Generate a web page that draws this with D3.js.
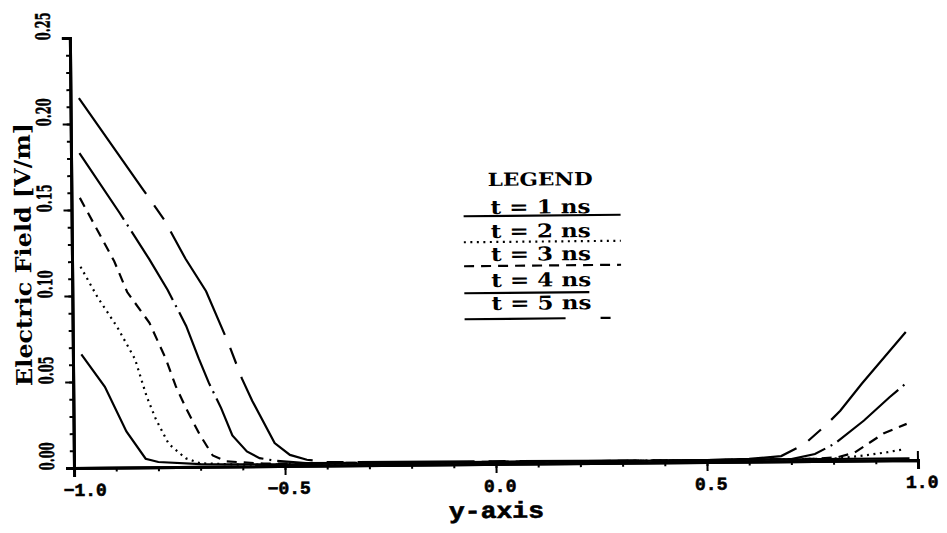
<!DOCTYPE html>
<html>
<head>
<meta charset="utf-8">
<script src="https://cdn.jsdelivr.net/npm/d3@7"></script>
<style>
  body { margin: 0; background: #fff; }
  svg { display: block; }
</style>
</head>
<body>
<svg id="chart" width="947" height="533"></svg>
<script>
// values: [y-position, field]
const t1ns = [[-0.98, 0.066], [-0.925, 0.047], [-0.875, 0.021], [-0.83, 0.005], [-0.8, 0.003],
  [-0.7, 0.0015], [-0.5, 0.001], [0.5, 0.001], [0.98, 0.001]];
const t2ns = [[-0.98, 0.117], [-0.94, 0.099], [-0.895, 0.082], [-0.853, 0.063], [-0.826, 0.041],
  [-0.805, 0.028], [-0.775, 0.0135], [-0.735, 0.005], [-0.7, 0.002], [-0.6, 0.001], [0.5, 0.001],
  [0.8, 0.0012], [0.86, 0.0025], [0.927, 0.0046], [0.97, 0.0064]];
const t3ns = [[-0.98, 0.157], [-0.9, 0.12], [-0.87, 0.102], [-0.818, 0.084], [-0.78, 0.063],
  [-0.757, 0.047], [-0.733, 0.034], [-0.702, 0.019], [-0.671, 0.0065], [-0.638, 0.003],
  [-0.55, 0.0015], [0.5, 0.001], [0.75, 0.0012], [0.81, 0.002], [0.85, 0.0046], [0.92, 0.0157],
  [0.974, 0.021]];
const t4ns = [[-0.98, 0.183], [-0.886, 0.148], [-0.817, 0.121], [-0.774, 0.103], [-0.731, 0.082],
  [-0.702, 0.063], [-0.679, 0.049], [-0.65, 0.034], [-0.624, 0.018], [-0.59, 0.0087],
  [-0.56, 0.0047], [-0.52, 0.003], [-0.45, 0.0015], [0.5, 0.001], [0.7, 0.0012], [0.756, 0.004],
  [0.803, 0.0099], [0.873, 0.0232], [0.934, 0.0366], [0.974, 0.0447]];
const t5ns = [[-0.98, 0.215], [-0.83, 0.1615], [-0.781, 0.144], [-0.731, 0.121], [-0.683, 0.102],
  [-0.631, 0.0715], [-0.6, 0.051], [-0.576, 0.038], [-0.524, 0.0134], [-0.488, 0.0064],
  [-0.448, 0.0035], [-0.4, 0.002], [0.5, 0.001], [0.6, 0.0015], [0.676, 0.003], [0.732, 0.0099],
  [0.786, 0.0215], [0.817, 0.029], [0.869, 0.0447], [0.974, 0.0744]];

const legendLabels = ["t = 1 ns", "t = 2 ns", "t = 3 ns", "t = 4 ns", "t = 5 ns"];
const xMajorTicks = [-1.0, -0.5, 0.0, 0.5, 1.0];
const yMajorTicks = [0.0, 0.05, 0.1, 0.15, 0.2, 0.25];

const series = [
  { data: t1ns, dash: null, legendDash: null },
  { data: t2ns, dash: "2,4.5", legendDash: "2,4.5" },
  { data: t3ns, dash: "10,7", legendDash: "10,7" },
  { data: t4ns, dash: "80,6,2,6", legendDash: "125,200" },
  { data: t5ns, dash: "117,14,17,14", legendDash: "101,35,10,200" }
];

const x = d3.scaleLinear().domain([-1, 1]).range([74, 918]);
const y = d3.scaleLinear().domain([0, 0.25]).range([468, 38]);

const monoFont = "'Liberation Mono', 'DejaVu Sans Mono', monospace";
const serifFont = "'DejaVu Serif', 'Liberation Serif', serif";

// the scanned original sits slightly rotated
const svg = d3.select("#chart").append("g")
  .attr("transform", `rotate(-0.55,${x(-1)},${y(0)})`);

// x axis: minor ticks every 0.1, major every 0.5
const xAxis = svg.append("g").attr("transform", `translate(0,${y(0)})`);
xAxis.call(d3.axisBottom(x).tickValues(d3.range(-10, 11).map(d => d / 10))
  .tickSize(4).tickFormat(""));
xAxis.append("g").call(d3.axisBottom(x).tickValues(xMajorTicks).tickSize(9).tickFormat(""));
xAxis.selectAll("path.domain").attr("stroke-width", 3);
xAxis.selectAll(".tick line").attr("stroke-width", 2);
xAxis.append("line").attr("x1", x(1)).attr("x2", x(1)).attr("y1", 0).attr("y2", -9)
  .attr("stroke", "#000").attr("stroke-width", 2);

xAxis.selectAll("text.lab")
  .data(xMajorTicks)
  .join("text")
  .attr("class", "lab")
  .attr("x", d => x(d) + (d === -1 ? 11 : 4))
  .attr("y", 28)
  .attr("fill", "#000")
  .attr("stroke", "#000")
  .attr("stroke-width", 0.6)
  .attr("text-anchor", "middle")
  .attr("font-family", monoFont)
  .attr("font-weight", "bold")
  .attr("font-size", 18)
  .text(d => d3.format(".1f")(d));

// y axis: minor ticks every 0.01, major every 0.05
const yAxis = svg.append("g").attr("transform", `translate(${x(-1)},0)`);
yAxis.call(d3.axisLeft(y).tickValues(d3.range(0, 26).map(d => d / 100))
  .tickSize(4).tickFormat(""));
yAxis.append("g").call(d3.axisLeft(y).tickValues(yMajorTicks).tickSize(8).tickFormat(""));
yAxis.selectAll("path.domain").attr("stroke-width", 3);
yAxis.selectAll(".tick line").attr("stroke-width", 2);

yAxis.selectAll("text.lab")
  .data(yMajorTicks)
  .join("text")
  .attr("class", "lab")
  .attr("transform", d => `translate(-20,${y(d) + 2}) rotate(-90)`)
  .attr("fill", "#000")
  .attr("stroke", "#000")
  .attr("stroke-width", 0.5)
  .attr("text-anchor", "start")
  .attr("font-family", serifFont)
  .attr("font-weight", "bold")
  .attr("font-size", 20)
  .attr("textLength", 28)
  .attr("lengthAdjust", "spacingAndGlyphs")
  .text(d => d3.format(".2f")(d));

// axis titles
svg.append("text")
  .attr("x", 496).attr("y", 522)
  .attr("text-anchor", "middle")
  .attr("fill", "#000")
  .attr("stroke", "#000")
  .attr("stroke-width", 0.6)
  .attr("font-family", monoFont)
  .attr("font-weight", "bold")
  .attr("font-size", 23)
  .attr("textLength", 95)
  .attr("lengthAdjust", "spacingAndGlyphs")
  .text("y-axis");

svg.append("text")
  .attr("transform", "translate(33,254) rotate(-90)")
  .attr("text-anchor", "middle")
  .attr("font-family", serifFont)
  .attr("font-weight", "bold")
  .attr("font-size", 22)
  .attr("textLength", 263)
  .attr("lengthAdjust", "spacingAndGlyphs")
  .text("Electric Field [V/m]");

// curves
const line = d3.line().x(d => x(d[0])).y(d => y(d[1]));

svg.append("g")
  .selectAll("path")
  .data(series)
  .join("path")
  .attr("d", d => line(d.data))
  .attr("fill", "none")
  .attr("stroke", "#000")
  .attr("stroke-width", 2.2)
  .attr("stroke-dasharray", d => d.dash);

// legend
const legend = svg.append("g");
legend.append("text")
  .attr("x", 543).attr("y", 190)
  .attr("text-anchor", "middle")
  .attr("font-family", serifFont)
  .attr("font-weight", "bold")
  .attr("font-size", 18)
  .attr("textLength", 105)
  .attr("lengthAdjust", "spacingAndGlyphs")
  .text("LEGEND");

const rowText = [218, 242, 265, 291, 314];
const rowLine = [220, 246, 270, 297, 323];

legend.selectAll("text.row")
  .data(legendLabels)
  .join("text")
  .attr("class", "row")
  .attr("x", 543)
  .attr("y", (d, i) => rowText[i])
  .attr("text-anchor", "middle")
  .attr("font-family", serifFont)
  .attr("font-weight", "bold")
  .attr("font-size", 19)
  .attr("textLength", 100)
  .attr("lengthAdjust", "spacingAndGlyphs")
  .text(d => d);

legend.selectAll("line")
  .data(series)
  .join("line")
  .attr("x1", 466).attr("x2", 623)
  .attr("y1", (d, i) => rowLine[i]).attr("y2", (d, i) => rowLine[i])
  .attr("stroke", "#000")
  .attr("stroke-width", 2.2)
  .attr("stroke-dasharray", d => d.legendDash);
</script>
</body>
</html>
